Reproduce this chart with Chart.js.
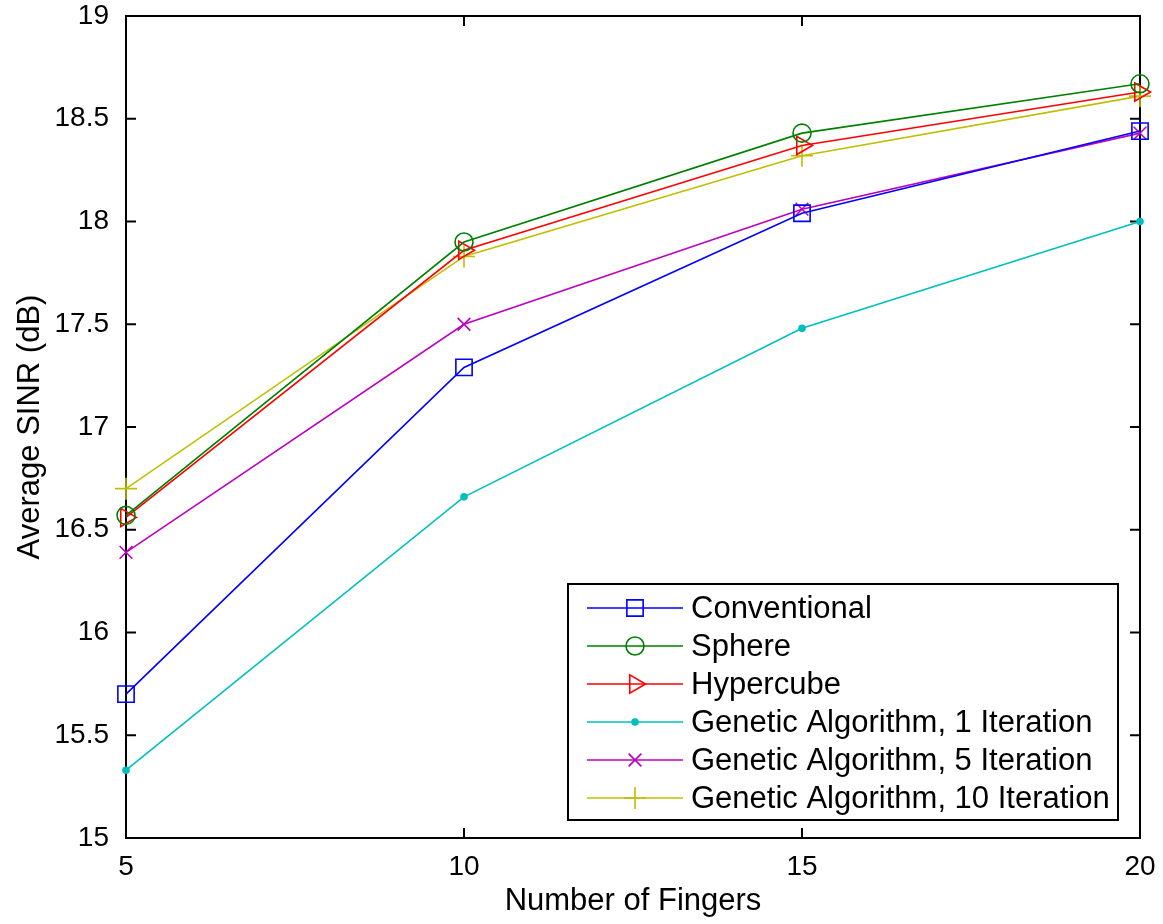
<!DOCTYPE html>
<html>
<head>
<meta charset="utf-8">
<script src="https://cdn.jsdelivr.net/npm/chart.js@4.4.0/dist/chart.umd.min.js"></script>
<style>
  html, body { margin: 0; padding: 0; background: #ffffff; }
  #wrap { width: 1163px; height: 924px; }
</style>
</head>
<body>
<div id="wrap"><canvas id="chartSinr"></canvas></div>
<script>
// ============================
// DADOS
// ============================
var fingers = [5, 10, 15, 20];
var yTicks = [15, 15.5, 16, 16.5, 17, 17.5, 18, 18.5, 19];

var conventional = [15.70, 17.29, 18.04, 18.44];
var sphere = [16.57, 17.90, 18.43, 18.67];
var hypercube = [16.56, 17.86, 18.37, 18.63];
var ga1 = [15.33, 16.66, 17.48, 18.00];
var ga5 = [16.39, 17.50, 18.06, 18.43];
var ga10 = [16.70, 17.83, 18.32, 18.61];

var fonte = 'Liberation Sans, Arial, sans-serif';

function pontos(valores) {
    return fingers.map(function (f, i) { return { x: f, y: valores[i] }; });
}

function serie(label, valores, cor, estilo, raio, rotacao, preenche) {
    return {
        label: label,
        data: pontos(valores),
        borderColor: cor,
        backgroundColor: preenche ? cor : 'rgba(0,0,0,0)',
        pointBorderColor: cor,
        pointBackgroundColor: preenche ? cor : 'rgba(0,0,0,0)',
        pointStyle: estilo,
        pointRadius: raio,
        pointHoverRadius: raio,
        pointRotation: rotacao,
        pointBorderWidth: 1.6,
        borderWidth: 1.6,
        tension: 0,
        fill: false,
        clip: false
    };
}

var series = [
    serie('Conventional', conventional, '#0000ff', 'rect', 11.5, 0, false),
    serie('Sphere', sphere, '#008000', 'circle', 9, 0, false),
    serie('Hypercube', hypercube, '#ff0000', 'triangle', 10.5, 90, false),
    serie('Genetic Algorithm, 1 Iteration', ga1, '#00bfbf', 'circle', 3, 0, true),
    serie('Genetic Algorithm, 5 Iteration', ga5, '#bf00bf', 'crossRot', 9, 0, false),
    serie('Genetic Algorithm, 10 Iteration', ga10, '#bfbf00', 'cross', 11, 0, false)
];

// ============================
// CAIXA + TICKS PARA DENTRO + LEGENDA
// ============================
var caixaPlugin = {
    id: 'caixa',
    beforeDatasetsDraw: function (chart) {
        var ctx = chart.ctx;
        var a = chart.chartArea;
        var sx = chart.scales.x;
        var sy = chart.scales.y;
        var t = 10;
        ctx.save();
        ctx.strokeStyle = '#000000';
        ctx.lineWidth = 2;
        ctx.strokeRect(a.left, a.top, a.right - a.left, a.bottom - a.top);
        ctx.beginPath();
        fingers.forEach(function (f) {
            var px = sx.getPixelForValue(f);
            ctx.moveTo(px, a.bottom); ctx.lineTo(px, a.bottom - t);
            ctx.moveTo(px, a.top); ctx.lineTo(px, a.top + t);
        });
        yTicks.forEach(function (v) {
            var py = sy.getPixelForValue(v);
            ctx.moveTo(a.left, py); ctx.lineTo(a.left + t, py);
            ctx.moveTo(a.right, py); ctx.lineTo(a.right - t, py);
        });
        ctx.stroke();
        ctx.restore();
    },
    afterDatasetsDraw: function (chart) {
        var ctx = chart.ctx;
        ctx.save();
        // legenda
        var lx = 568, ly = 584, lw = 550, lh = 236;
        ctx.fillStyle = '#ffffff';
        ctx.fillRect(lx, ly, lw, lh);
        ctx.strokeStyle = '#000000';
        ctx.lineWidth = 2;
        ctx.strokeRect(lx, ly, lw, lh);
        ctx.font = '31px ' + fonte;
        ctx.textBaseline = 'middle';
        ctx.textAlign = 'left';
        chart.data.datasets.forEach(function (ds, i) {
            var y = 608 + i * 38;
            ctx.strokeStyle = ds.borderColor;
            ctx.lineWidth = 1.6;
            ctx.beginPath();
            ctx.moveTo(587, y); ctx.lineTo(683, y);
            ctx.stroke();
            ctx.fillStyle = ds.pointBackgroundColor;
            Chart.helpers.drawPoint(ctx, {
                pointStyle: ds.pointStyle,
                radius: ds.pointRadius,
                rotation: ds.pointRotation,
                borderWidth: 1.6
            }, 635, y);
            ctx.fillStyle = '#000000';
            ctx.fillText(ds.label, 691, y + 1);
        });
        ctx.restore();
    }
};

// ============================
// GRÁFICO
// ============================
var ctxSinr = document.getElementById('chartSinr');

var graficoSinr = new Chart(ctxSinr, {
    type: 'line',
    data: { datasets: series },
    options: {
        responsive: true,
        maintainAspectRatio: false,
        animation: false,
        layout: { padding: { top: 16, right: 23, left: 0, bottom: 0 } },
        plugins: {
            legend: { display: false },
            tooltip: { enabled: false }
        },
        scales: {
            x: {
                type: 'linear',
                min: 5,
                max: 20,
                afterFit: function (s) { s.height = 86; s.paddingLeft = 0; s.paddingRight = 0; },
                afterBuildTicks: function (s) { s.ticks = fingers.map(function (v) { return { value: v }; }); },
                grid: { display: false },
                border: { display: false },
                ticks: { color: '#000000', padding: 4, maxRotation: 0, font: { family: fonte, size: 28 } },
                title: {
                    display: true,
                    text: 'Number of Fingers',
                    color: '#000000',
                    padding: { top: 0, bottom: 4 },
                    font: { family: fonte, size: 31 }
                }
            },
            y: {
                type: 'linear',
                min: 15,
                max: 19,
                afterFit: function (s) { s.width = 126; s.paddingTop = 0; s.paddingBottom = 0; },
                afterBuildTicks: function (s) { s.ticks = yTicks.map(function (v) { return { value: v }; }); },
                grid: { display: false },
                border: { display: false },
                ticks: {
                    color: '#000000',
                    padding: 9,
                    font: { family: fonte, size: 28 },
                    callback: function (v) { return String(v); }
                },
                title: {
                    display: true,
                    text: 'Average SINR (dB)',
                    color: '#000000',
                    padding: { top: 12, bottom: 0 },
                    font: { family: fonte, size: 31 }
                }
            }
        }
    },
    plugins: [caixaPlugin]
});
</script>
</body>
</html>
